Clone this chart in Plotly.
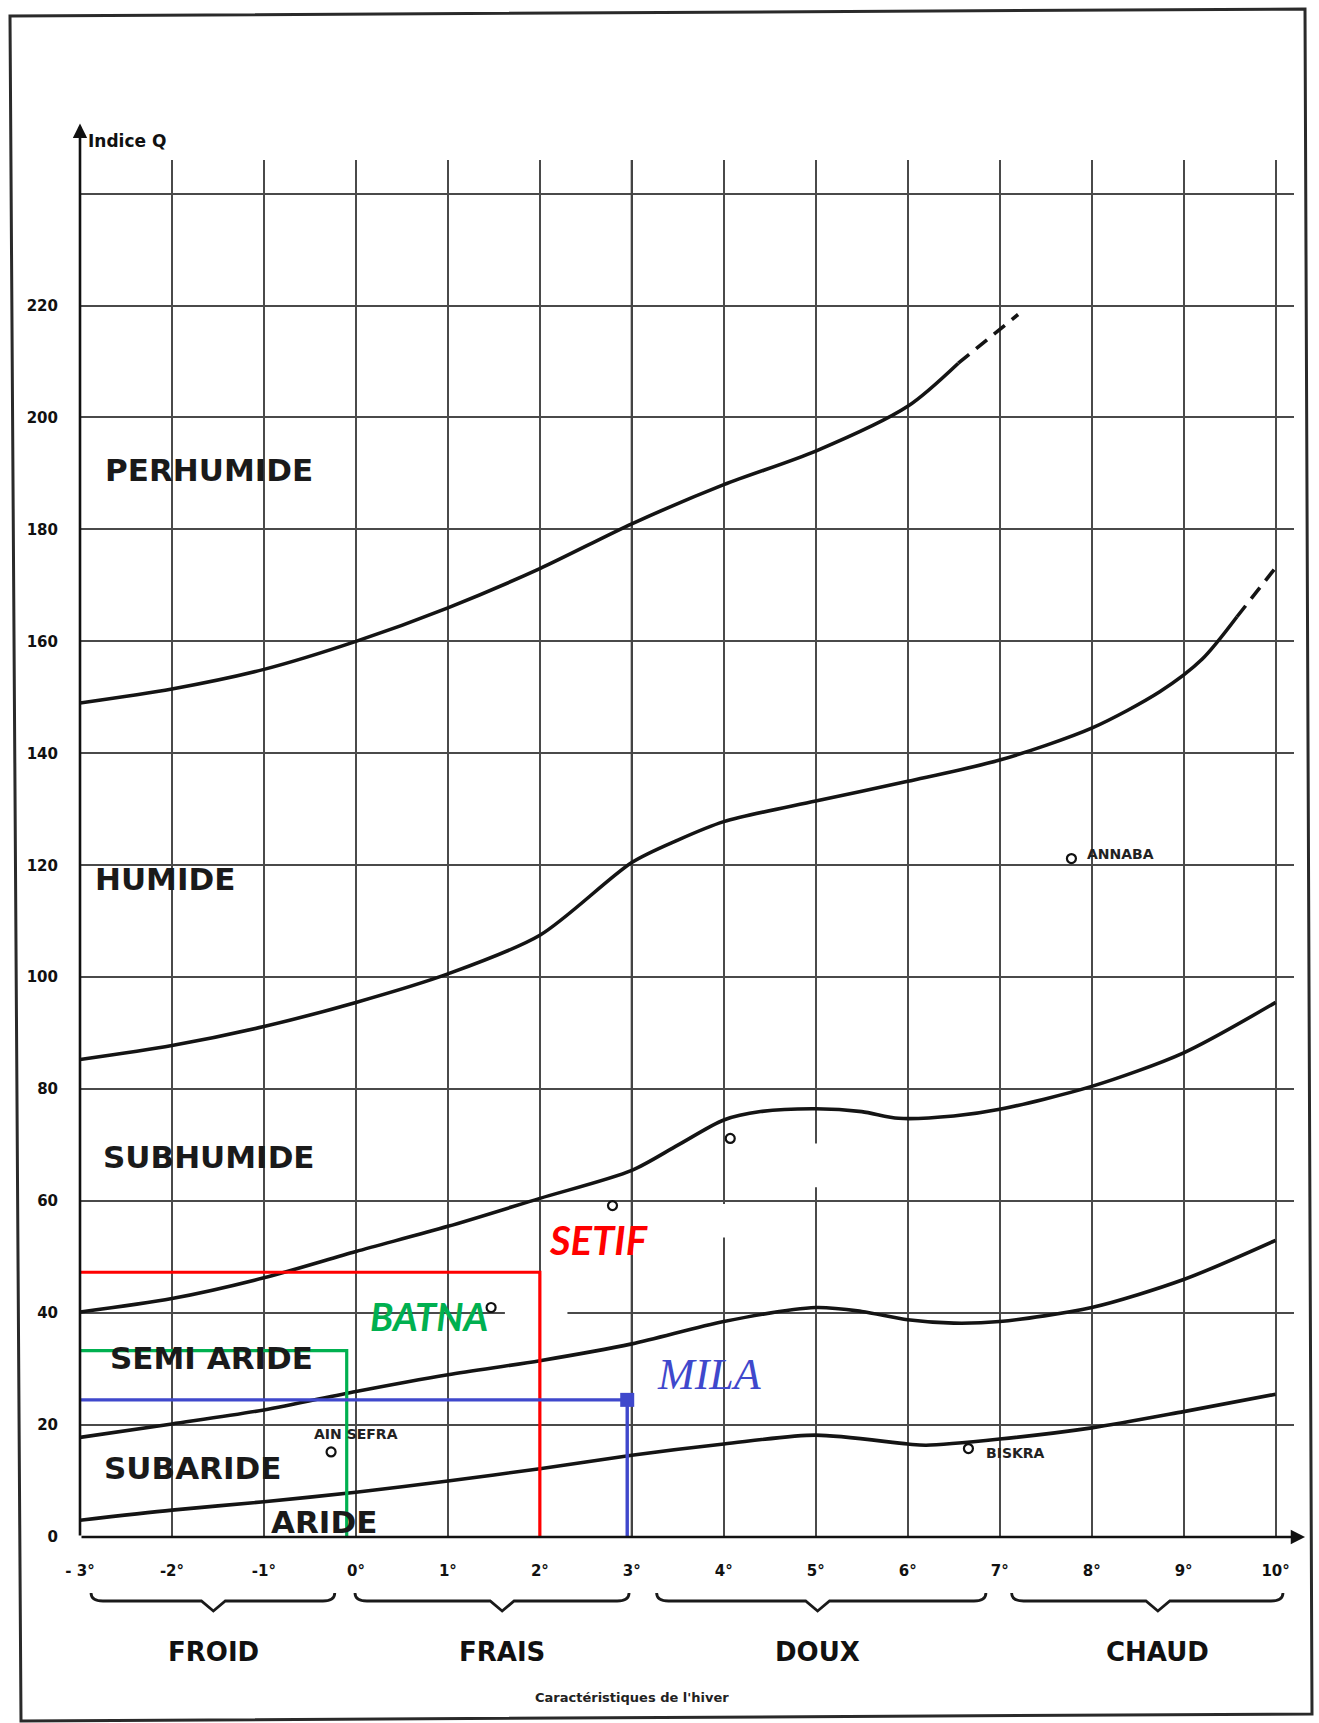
import plotly.graph_objects as go

# ---------------- data ----------------
degrees = list(range(-3, 11))
degree_labels = ["- 3°", "-2°", "-1°", "0°", "1°", "2°", "3°", "4°", "5°", "6°", "7°", "8°", "9°", "10°"]
q_ticks = list(range(0, 241, 20))
q_labels = [str(v) for v in range(0, 221, 20)] + [""]

# boundary curves (m in °C, Q index)
perhumide_m = [-3, -2, -1, 0, 1, 2, 3, 4, 5, 6, 6.55]
perhumide_q = [149, 151.5, 155, 160, 166, 173, 181, 188, 194, 202, 209.7]
perhumide_ext_m = [6.55, 7.2]
perhumide_ext_q = [209.7, 218.4]

humide_m = [-3, -2, -1, 0, 1, 2, 3, 3.5, 4, 5, 6, 7, 8, 8.74, 9.2, 9.58]
humide_q = [85.3, 87.8, 91.2, 95.5, 100.6, 107.5, 120.5, 124.5, 127.8, 131.5, 135, 138.8, 144.5, 151, 156.8, 164.4]
humide_ext_m = [9.58, 10.04]
humide_ext_q = [164.4, 174]

subhumide_m = [-3, -2, -1, 0, 1, 2, 3, 3.5, 4, 4.4, 5, 5.5, 5.9, 6.5, 7, 8, 9, 10]
subhumide_q = [40.2, 42.6, 46.3, 51, 55.5, 60.5, 65.5, 70, 74.5, 76, 76.5, 76, 74.8, 75.2, 76.4, 80.5, 86.5, 95.5]

semiaride_m = [-3, -2, -1, 0, 1, 2, 3, 4, 5, 5.5, 6, 6.5, 7, 8, 9, 10]
semiaride_q = [17.8, 20.2, 22.7, 26, 29, 31.5, 34.5, 38.5, 41, 40.3, 38.8, 38.2, 38.5, 41, 46, 53]

subaride_m = [-3, -2, -1, 0, 1, 2, 3, 4, 5, 6, 6.2, 7, 8, 9, 10]
subaride_q = [3, 4.8, 6.3, 8, 10, 12.2, 14.6, 16.6, 18.2, 16.6, 16.4, 17.5, 19.5, 22.4, 25.5]

# zones
zone_names = ["PERHUMIDE", "HUMIDE", "SUBHUMIDE", "SEMI ARIDE", "SUBARIDE", "ARIDE"]
zone_m = [-1.6, -2.08, -1.6, -1.57, -1.78, -0.35]
zone_q = [190.7, 117.5, 67.8, 32.0, 12.4, 2.6]

# stations of the original chart
station_names = ["ANNABA", "BISKRA", "AIN SEFRA"]
station_m = [7.78, 6.66, -0.27]
station_q = [121.2, 15.8, 15.2]
unnamed_m = [4.07, 2.79, 1.47]
unnamed_q = [71.2, 59.2, 41.0]

# added stations
setif_m, setif_q = 2.0, 47.3
batna_m, batna_q = -0.1, 33.3
mila_m, mila_q = 2.95, 24.5

# winter classes
winter_names = ["FROID", "FRAIS", "DOUX", "CHAUD"]
winter_start = [-2.88, -0.01, 3.27, 7.13]
winter_end = [-0.23, 2.97, 6.85, 10.08]
winter_mid = [-1.55, 1.59, 5.02, 8.72]

# ---------------- geometry ----------------
W, H = 1319, 1723
ML, MR, MT, MB = 80, 25, 160, 186
PW, PH = W - ML - MR, H - MT - MB


def pxx(px):
    return (px - ML) / PW


def pyy(py):
    return (H - MB - py) / PH


fig = go.Figure()

curve_style = dict(color="#141414", width=3.6, shape="spline", smoothing=0.8)
for mm, qq in [(perhumide_m, perhumide_q), (humide_m, humide_q), (subhumide_m, subhumide_q),
               (semiaride_m, semiaride_q), (subaride_m, subaride_q)]:
    fig.add_trace(go.Scatter(x=mm, y=qq, mode="lines", line=curve_style, hoverinfo="skip"))
for mm, qq in [(perhumide_ext_m, perhumide_ext_q), (humide_ext_m, humide_ext_q)]:
    fig.add_trace(go.Scatter(x=mm, y=qq, mode="lines",
                             line=dict(color="#141414", width=3.6, dash="14px,9px"), hoverinfo="skip"))

# station markers
fig.add_trace(go.Scatter(x=station_m + unnamed_m, y=station_q + unnamed_q, mode="markers",
                         marker=dict(symbol="circle-open", size=9, color="#111", line=dict(width=2.2)),
                         hoverinfo="skip"))

# added stations
fig.add_trace(go.Scatter(x=[-3, setif_m, setif_m], y=[setif_q, setif_q, 0], mode="lines",
                         line=dict(color="#ff0000", width=3.2), hoverinfo="skip"))
fig.add_trace(go.Scatter(x=[-3, batna_m, batna_m], y=[batna_q, batna_q, 0], mode="lines",
                         line=dict(color="#00b050", width=3.2), hoverinfo="skip"))
fig.add_trace(go.Scatter(x=[-3, mila_m, mila_m], y=[mila_q, mila_q, 0], mode="lines",
                         line=dict(color="#3f48cc", width=3.4), hoverinfo="skip"))
fig.add_trace(go.Scatter(x=[mila_m], y=[mila_q], mode="markers",
                         marker=dict(symbol="square", size=14, color="#3f48cc"), hoverinfo="skip"))

shapes = []
# erased label patches (white)
for x0, x1, y0, y1 in [(4.2, 5.05, 62.5, 70.3), (3.05, 4.7, 53.5, 59.5), (1.62, 2.3, 39.3, 42.5)]:
    shapes.append(dict(type="rect", xref="x", yref="y", x0=x0, x1=x1, y0=y0, y1=y1,
                       fillcolor="white", line=dict(width=0), layer="between"))
# heavier 3° line
shapes.append(dict(type="line", xref="x", yref="y", x0=3, x1=3, y0=0, y1=246,
                   line=dict(color="#444", width=2.3), layer="between"))

# braces
yb, yt, yv = pyy(1601), pyy(1593), pyy(1611)
for a, b, c in zip(winter_start, winter_end, winter_mid):
    d = 0.13
    path = (f"M {a},{yt} Q {a},{yb} {a + d},{yb} L {c - d},{yb} L {c},{yv} L {c + d},{yb} "
            f"L {b - d},{yb} Q {b},{yb} {b},{yt}")
    shapes.append(dict(type="path", xref="x", yref="paper", path=path,
                       line=dict(color="#1a1a1a", width=2.8)))

# page border
border = (f"M {pxx(10)},{pyy(16)} L {pxx(1305)},{pyy(9)} L {pxx(1312)},{pyy(1714)} "
          f"L {pxx(21)},{pyy(1721)} Z")
shapes.append(dict(type="path", xref="paper", yref="paper", path=border,
                   line=dict(color="#2a2a2a", width=3)))

annotations = []
# axes arrows
annotations.append(dict(x=-3, y=252.5, ax=-3, ay=0, xref="x", yref="y", axref="x", ayref="y",
                        text="", showarrow=True, arrowhead=2, arrowsize=1.1, arrowwidth=2.6,
                        arrowcolor="#111"))
annotations.append(dict(x=10.32, y=0, ax=-3, ay=0, xref="x", yref="y", axref="x", ayref="y",
                        text="", showarrow=True, arrowhead=2, arrowsize=1.1, arrowwidth=2.6,
                        arrowcolor="#111"))
annotations.append(dict(x=-3, y=pyy(141), xref="x", yref="paper", xanchor="left", yanchor="middle",
                        xshift=6, text="<b>Indice Q</b>", showarrow=False,
                        font=dict(family="DejaVu Sans", size=17, color="#111")))
annotations.append(dict(x=10.3, y=4.8, xref="x", yref="y", text="<b>m</b>", showarrow=False,
                        font=dict(family="DejaVu Sans", size=14, color="#111")))

for name, mm, qq in zip(zone_names, zone_m, zone_q):
    annotations.append(dict(x=mm, y=qq, xref="x", yref="y", text=f"<b>{name}</b>", showarrow=False,
                            font=dict(family="DejaVu Sans", size=31, color="#1a1a1a")))

annotations.append(dict(x=7.93, y=122.0, xref="x", yref="y", xanchor="left", text="<b>ANNABA</b>",
                        showarrow=False, font=dict(family="DejaVu Sans", size=14, color="#222")))
annotations.append(dict(x=6.83, y=15.0, xref="x", yref="y", xanchor="left", text="<b>BISKRA</b>",
                        showarrow=False, font=dict(family="DejaVu Sans", size=14, color="#222")))
annotations.append(dict(x=0.0, y=18.4, xref="x", yref="y", text="<b>AIN SEFRA</b>",
                        showarrow=False, font=dict(family="DejaVu Sans", size=14, color="#222")))

annotations.append(dict(x=2.64, y=53.0, xref="x", yref="y", text="<b><i>SETIF</i></b>", showarrow=False,
                        font=dict(family="Lato", size=40, color="#ff0000")))
annotations.append(dict(x=0.79, y=39.5, xref="x", yref="y", text="<b><i>BATNA</i></b>", showarrow=False,
                        font=dict(family="Lato", size=38, color="#00b050")))
annotations.append(dict(x=3.85, y=29.1, xref="x", yref="y", text="<i>MILA</i>", showarrow=False,
                        font=dict(family="Liberation Serif", size=44, color="#3f48cc")))

for name, c in zip(winter_names, winter_mid):
    annotations.append(dict(x=c, y=pyy(1652), xref="x", yref="paper", xanchor="center", yanchor="middle",
                            text=f"<b>{name}</b>", showarrow=False,
                            font=dict(family="DejaVu Sans", size=26, color="#111")))
annotations.append(dict(x=pxx(632), y=pyy(1698), xref="paper", yref="paper", xanchor="center",
                        yanchor="middle", text="<b>Caractéristiques de l'hiver</b>", showarrow=False,
                        font=dict(family="DejaVu Sans", size=13, color="#222")))

fig.update_layout(
    width=W, height=H,
    margin=dict(l=ML, r=MR, t=MT, b=MB),
    paper_bgcolor="white", plot_bgcolor="white",
    showlegend=False,
    shapes=shapes,
    annotations=annotations,
    xaxis=dict(range=[-3, 10.2], tickvals=degrees, ticktext=[f"<b>{t}</b>" for t in degree_labels],
               showgrid=True, gridcolor="#4a4a4a", gridwidth=1.5, zeroline=False, showline=False,
               ticks="outside", ticklen=20, tickcolor="rgba(0,0,0,0)",
               tickfont=dict(family="DejaVu Sans", size=15, color="#111")),
    yaxis=dict(range=[0, 246], tickvals=q_ticks, ticktext=[f"<b>{t}</b>" if t else "" for t in q_labels],
               showgrid=True, gridcolor="#4a4a4a", gridwidth=1.5, zeroline=False, showline=False,
               ticks="outside", ticklen=18, tickcolor="rgba(0,0,0,0)",
               tickfont=dict(family="DejaVu Sans", size=15, color="#111")),
)

fig.write_html("out.html")
